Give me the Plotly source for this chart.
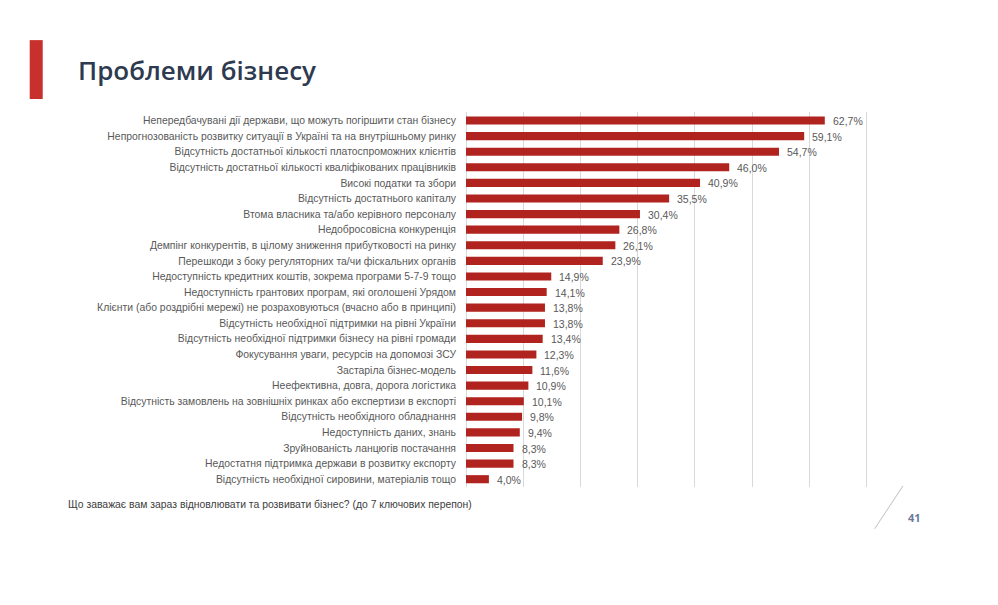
import plotly.graph_objects as go

categories = [
    "Непередбачувані дії держави, що можуть погіршити стан бізнесу",
    "Непрогнозованість розвитку ситуації в Україні та на внутрішньому ринку",
    "Відсутність достатньої кількості платоспроможних клієнтів",
    "Відсутність достатньої кількості кваліфікованих працівників",
    "Високі податки та збори",
    "Відсутність достатнього капіталу",
    "Втома власника та/або керівного персоналу",
    "Недобросовісна конкуренція",
    "Демпінг конкурентів, в цілому зниження прибутковості на ринку",
    "Перешкоди з боку регуляторних та/чи фіскальних органів",
    "Недоступність кредитних коштів, зокрема програми 5-7-9 тощо",
    "Недоступність грантових програм, які оголошені Урядом",
    "Клієнти (або роздрібні мережі) не розраховуються (вчасно або в принципі)",
    "Відсутність необхідної підтримки на рівні України",
    "Відсутність необхідної підтримки бізнесу на рівні громади",
    "Фокусування уваги, ресурсів на допомозі ЗСУ",
    "Застаріла бізнес-модель",
    "Неефективна, довга, дорога логістика",
    "Відсутність замовлень на зовнішніх ринках або експертизи в експорті",
    "Відсутність необхідного обладнання",
    "Недоступність даних, знань",
    "Зруйнованість ланцюгів постачання",
    "Недостатня підтримка держави в розвитку експорту",
    "Відсутність необхідної сировини, матеріалів тощо",
]
values = [62.7, 59.1, 54.7, 46.0, 40.9, 35.5, 30.4, 26.8, 26.1, 23.9, 14.9, 14.1,
          13.8, 13.8, 13.4, 12.3, 11.6, 10.9, 10.1, 9.8, 9.4, 8.3, 8.3, 4.0]
value_labels = [f"{v:.1f}%".replace(".", ",") for v in values]

title_text = "Проблеми бізнесу"
footnote_text = "Що заважає вам зараз відновлювати та розвивати бізнес? (до 7 ключових перепон)"
page_number = "41"

# page offset (browser body margin)
OFF = 8
XMAX = 70.6  # slightly past 70 so the last gridline is drawn
L, T, PH = 466 - OFF, 111.5 - OFF, 375.6
PW = 400.3 * XMAX / 70
W, H = 998, 605


def px(xp):
    return (xp - OFF - L) / PW


def py(yp):
    return (T + PH - (yp - OFF)) / PH


fig = go.Figure()
fig.add_trace(go.Bar(
    y=categories,
    x=values,
    orientation="h",
    marker=dict(color="#B0231E", line=dict(width=0)),
    width=0.52,
    hoverinfo="skip",
))

annotations = []
for cat, v, lab in zip(categories, values, value_labels):
    annotations.append(dict(
        x=v, y=cat, xref="x", yref="y", text=lab, showarrow=False,
        xanchor="left", xshift=6, yshift=-0.5,
        font=dict(family="Liberation Sans, Arial", size=10.5, color="#595959"),
    ))

annotations += [
    dict(text=title_text, xref="paper", yref="paper",
         x=px(76), y=py(69), xanchor="left", yanchor="middle", showarrow=False,
         font=dict(family="Open Sans, Noto Sans", size=26, color="#2E3A4F", weight=600)),
    dict(text=footnote_text, xref="paper", yref="paper",
         x=px(66), y=py(505), xanchor="left", yanchor="middle", showarrow=False,
         font=dict(family="Liberation Sans, Arial", size=10.4, color="#404040")),
    dict(text=f"<b>{page_number}</b>", xref="paper", yref="paper",
         x=px(914), y=py(518), xanchor="center", yanchor="middle", showarrow=False,
         font=dict(family="Open Sans, Noto Sans", size=11, color="#6B7A99")),
]

fig.update_layout(
    width=W, height=H,
    paper_bgcolor="white", plot_bgcolor="white",
    margin=dict(l=L, r=W - L - PW, t=T, b=H - T - PH, pad=0),
    showlegend=False,
    xaxis=dict(
        range=[0, XMAX], dtick=10, showgrid=True, gridcolor="#D9D9D9", gridwidth=1,
        showticklabels=False, zeroline=True, zerolinecolor="#D9D9D9", zerolinewidth=1,
        showline=False, fixedrange=True,
    ),
    yaxis=dict(
        autorange="reversed", showgrid=False, showline=False, zeroline=False,
        ticks="", ticklabelstandoff=9,
        tickfont=dict(family="Liberation Sans, Arial", size=10.4, color="#595959"),
        fixedrange=True,
    ),
    shapes=[
        dict(type="rect", xref="paper", yref="paper",
             x0=px(30), x1=px(43), y0=py(98.5), y1=py(39.5),
             fillcolor="#C8302E", line=dict(width=0), layer="above"),
        dict(type="line", xref="paper", yref="paper",
             x0=px(902.7), x1=px(874.3), y0=py(486), y1=py(529),
             line=dict(color="#BFBFBF", width=1)),
    ],
    annotations=annotations,
)

fig.write_html("out.html")
